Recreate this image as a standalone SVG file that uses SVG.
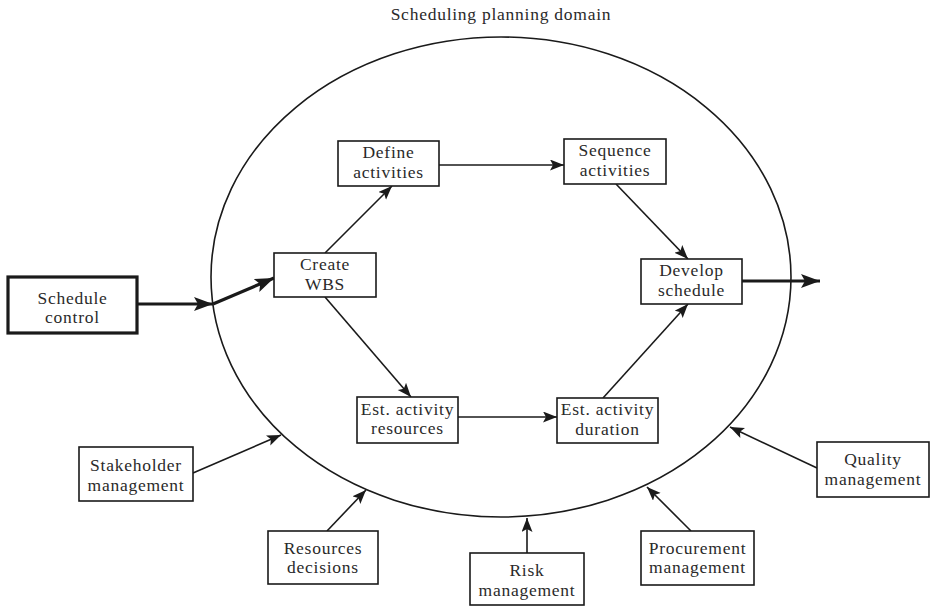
<svg xmlns="http://www.w3.org/2000/svg" width="930" height="606" viewBox="0 0 930 606">
  <style>
    .box { fill: #ffffff; stroke: #1a1a1a; stroke-width: 1.6; }
    .box-bold { fill: #ffffff; stroke: #1a1a1a; stroke-width: 3.2; }
    .label { font-family: "Liberation Serif", "Times New Roman", serif; font-size: 17.5px; letter-spacing: 0.75px; fill: #2a2a2a; text-anchor: middle; }
    .edge { fill: none; stroke: #1a1a1a; stroke-width: 1.6; marker-end: url(#arrow); }
    .edge-bold { fill: none; stroke: #1a1a1a; stroke-width: 3.2; marker-end: url(#arrow-bold); }
    .domain { fill: none; stroke: #1a1a1a; stroke-width: 1.6; }
  </style>
  <defs>
    <marker id="arrow" markerUnits="userSpaceOnUse" markerWidth="16" markerHeight="12" refX="14" refY="5.5" orient="auto">
      <path d="M0,0 L14,5.5 L0,11 L3,5.5 Z" fill="#1a1a1a"/>
    </marker>
    <marker id="arrow-bold" markerUnits="userSpaceOnUse" markerWidth="22" markerHeight="16" refX="19" refY="7" orient="auto">
      <path d="M0,0 L19,7 L0,14 L4,7 Z" fill="#1a1a1a"/>
    </marker>
  </defs>
  <rect width="930" height="606" fill="#ffffff"/>

  <!-- planning domain boundary -->
  <g id="domain">
    <ellipse class="domain" cx="501" cy="277" rx="290" ry="240"/>
    <text class="label" x="501" y="20">Scheduling planning domain</text>
  </g>

  <!-- connectors -->
  <g id="connectors">
    <line class="edge-bold" x1="137" y1="304" x2="213" y2="304"/>
    <line class="edge-bold" x1="213" y1="304" x2="274" y2="278"/>
    <line class="edge" x1="325" y1="253" x2="392" y2="186"/>
    <line class="edge" x1="325" y1="297" x2="411" y2="397"/>
    <line class="edge" x1="439" y1="165" x2="564" y2="165"/>
    <line class="edge" x1="616" y1="184" x2="688" y2="259"/>
    <line class="edge" x1="458" y1="417" x2="557" y2="417"/>
    <line class="edge" x1="603" y1="398" x2="688" y2="304"/>
    <line class="edge-bold" x1="742" y1="281" x2="820" y2="281"/>
    <line class="edge" x1="193" y1="473" x2="281" y2="435"/>
    <line class="edge" x1="327" y1="531" x2="366" y2="490"/>
    <line class="edge" x1="527" y1="553" x2="527" y2="518"/>
    <line class="edge" x1="691" y1="531" x2="647" y2="487"/>
    <line class="edge" x1="817" y1="468" x2="730" y2="427"/>
  </g>

  <g id="schedule-control">
    <rect class="box-bold" x="8" y="277" width="129" height="56"/>
    <text class="label" x="72.5" y="303.5">Schedule</text>
    <text class="label" x="72.5" y="323">control</text>
  </g>

  <g id="create-wbs">
    <rect class="box" x="274" y="253" width="102" height="44"/>
    <text class="label" x="325" y="270">Create</text>
    <text class="label" x="325" y="289.5">WBS</text>
  </g>

  <g id="define-activities">
    <rect class="box" x="338" y="141" width="101" height="45"/>
    <text class="label" x="388.5" y="158">Define</text>
    <text class="label" x="388.5" y="177.5">activities</text>
  </g>

  <g id="sequence-activities">
    <rect class="box" x="564" y="139" width="102" height="45"/>
    <text class="label" x="615" y="156">Sequence</text>
    <text class="label" x="615" y="175.5">activities</text>
  </g>

  <g id="develop-schedule">
    <rect class="box" x="641" y="259" width="101" height="45"/>
    <text class="label" x="691.5" y="276">Develop</text>
    <text class="label" x="691.5" y="295.5">schedule</text>
  </g>

  <g id="est-activity-resources">
    <rect class="box" x="357" y="397" width="101" height="46"/>
    <text class="label" x="407.5" y="414.5">Est. activity</text>
    <text class="label" x="407.5" y="434">resources</text>
  </g>

  <g id="est-activity-duration">
    <rect class="box" x="557" y="398" width="101" height="45"/>
    <text class="label" x="607.5" y="415">Est. activity</text>
    <text class="label" x="607.5" y="434.5">duration</text>
  </g>

  <g id="stakeholder-management">
    <rect class="box" x="79" y="447" width="114" height="54"/>
    <text class="label" x="136" y="471">Stakeholder</text>
    <text class="label" x="136" y="490.5">management</text>
  </g>

  <g id="resources-decisions">
    <rect class="box" x="268" y="531" width="110" height="53"/>
    <text class="label" x="323" y="553.5">Resources</text>
    <text class="label" x="323" y="573">decisions</text>
  </g>

  <g id="risk-management">
    <rect class="box" x="470" y="553" width="114" height="52"/>
    <text class="label" x="527" y="576">Risk</text>
    <text class="label" x="527" y="595.5">management</text>
  </g>

  <g id="procurement-management">
    <rect class="box" x="641" y="531" width="113" height="54"/>
    <text class="label" x="697.5" y="553.5">Procurement</text>
    <text class="label" x="697.5" y="573">management</text>
  </g>

  <g id="quality-management">
    <rect class="box" x="817" y="442" width="112" height="55"/>
    <text class="label" x="873" y="465">Quality</text>
    <text class="label" x="873" y="484.5">management</text>
  </g>
</svg>
